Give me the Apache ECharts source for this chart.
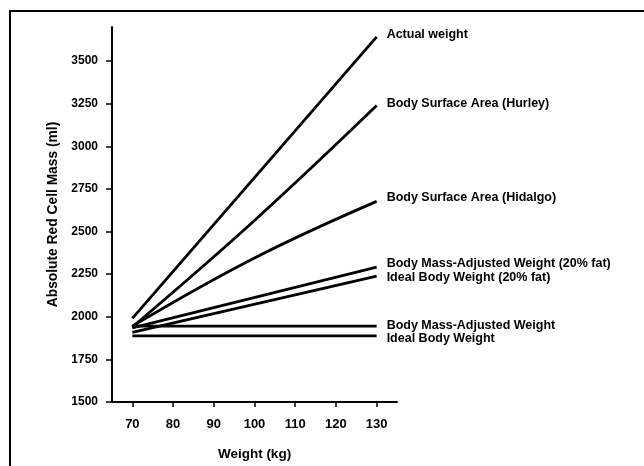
<!DOCTYPE html>
<html>
<head>
<meta charset="utf-8">
<script src="https://cdn.jsdelivr.net/npm/echarts@6/dist/echarts.min.js"></script>
<style>
html,body{margin:0;padding:0;background:#fff;}
#c{width:644px;height:466px;}
</style>
</head>
<body>
<div id="c"></div>
<script>
// Data
var xTicks = [70, 80, 90, 100, 110, 120, 130];
var yTicks = [1500, 1750, 2000, 2250, 2500, 2750, 3000, 3250, 3500];
var seriesNames = [
  'Actual weight',
  'Body Surface Area (Hurley)',
  'Body Surface Area (Hidalgo)',
  'Body Mass-Adjusted Weight (20% fat)',
  'Ideal Body Weight (20% fat)',
  'Body Mass-Adjusted Weight',
  'Ideal Body Weight'
];
var actualWeight = [[70, 1991], [130, 3642]];
var bsaHurley = [[70, 1940], [100, 2565], [130, 3239]];
var bsaHidalgo = [[70, 1945], [100, 2345], [130, 2677]];
var bmaw20 = [[70, 1935], [130, 2291]];
var ibw20 = [[70, 1908], [130, 2239]];
var bmaw = [[70, 1945], [130, 1945]];
var ibw = [[70, 1888], [130, 1888]];

var seriesData = [actualWeight, bsaHurley, bsaHidalgo, bmaw20, ibw20, bmaw, ibw];
var smoothFlags = [false, true, true, false, false, false, false];
var labelDy = [-2, -2, -4, -4, 2, -1, 3];

var FONT = '"Liberation Sans", Arial, sans-serif';

var chart = echarts.init(document.getElementById('c'), null, {renderer: 'canvas'});

var series = seriesData.map(function (d, i) {
  return {
    name: seriesNames[i],
    type: 'line',
    data: d,
    smooth: smoothFlags[i] ? 0.4 : false,
    symbol: 'none',
    silent: true,
    animation: false,
    lineStyle: {color: '#000', width: 2.8, cap: 'butt'},
    endLabel: {
      show: true,
      formatter: seriesNames[i],
      color: '#000',
      fontFamily: FONT,
      fontWeight: 'bold',
      fontSize: 12.5,
      distance: 10,
      offset: [0, labelDy[i]]
    }
  };
});

chart.setOption({
  animation: false,
  backgroundColor: '#fff',
  grid: {left: 112, right: 247, top: 27, bottom: 63, containLabel: false},
  xAxis: {
    type: 'value',
    min: 65,
    max: 135,
    name: 'Weight (kg)',
    nameLocation: 'middle',
    nameGap: 45,
    nameTextStyle: {color: '#000', fontFamily: FONT, fontWeight: 'bold', fontSize: 13.5},
    axisLine: {show: true, onZero: false, lineStyle: {color: '#000', width: 2}},
    axisTick: {show: true, length: 5, lineStyle: {color: '#000', width: 1.5}, customValues: xTicks},
    axisLabel: {color: '#000', fontFamily: FONT, fontWeight: 'bold', fontSize: 13, margin: 16, customValues: xTicks,
      formatter: function (v) { return String(v); }},
    splitLine: {show: false}
  },
  yAxis: {
    type: 'value',
    min: 1500,
    max: 3700,
    name: 'Absolute Red Cell Mass (ml)',
    nameLocation: 'middle',
    nameGap: 52,
    nameTextStyle: {color: '#000', fontFamily: FONT, fontWeight: 'bold', fontSize: 13.8},
    axisLine: {show: true, onZero: false, lineStyle: {color: '#000', width: 2}},
    axisTick: {show: true, length: 6, lineStyle: {color: '#000', width: 1.5}, customValues: yTicks},
    axisLabel: {color: '#000', fontFamily: FONT, fontWeight: 'bold', fontSize: 12, margin: 14, customValues: yTicks,
      formatter: function (v) { return String(v); }},
    splitLine: {show: false}
  },
  graphic: [
    {type: 'line', shape: {x1: 10, y1: 11, x2: 644, y2: 11}, style: {stroke: '#000', lineWidth: 2}, silent: true},
    {type: 'line', shape: {x1: 10, y1: 10, x2: 10, y2: 466}, style: {stroke: '#000', lineWidth: 2}, silent: true}
  ],
  series: series
});
</script>
</body>
</html>
